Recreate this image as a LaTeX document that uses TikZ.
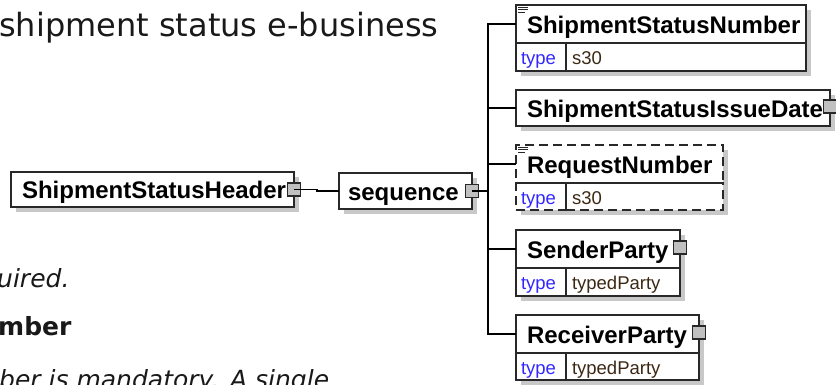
\documentclass[tikz,border=0pt]{standalone}
\usepackage{fontspec}
\setmainfont{Liberation Sans}
\newfontfamily\pagefont{DejaVu Sans}
\usetikzlibrary{positioning,shadows}

\definecolor{boxline}{RGB}{40,40,40}
\definecolor{shadowgray}{RGB}{200,200,200}
\definecolor{expandgray}{RGB}{192,192,192}
\definecolor{typeblue}{RGB}{50,40,255}
\definecolor{valbrown}{RGB}{60,40,20}
\definecolor{pageink}{RGB}{25,25,25}

\begin{document}
\begin{tikzpicture}[x=1pt, y=-1pt,
    elembox/.style={draw=boxline, line width=1.4pt, fill=white, anchor=north west,
        inner xsep=11pt, inner ysep=0pt, outer sep=0pt, align=left,
        text height=21pt, text depth=3pt,
        font=\fontsize{24}{28}\selectfont\bfseries,
        drop shadow={shadow xshift=5pt, shadow yshift=-5pt, fill=shadowgray, opacity=1}},
    keycell/.style={draw=boxline, line width=1.4pt, fill=white, anchor=north west,
        minimum height=28pt, inner xsep=5pt, inner ysep=0pt, outer sep=0pt,
        text height=16pt, text depth=1pt,
        text width=40pt, align=left, text=typeblue, font=\fontsize{18.5}{22}\selectfont,
        drop shadow={shadow xshift=5pt, shadow yshift=-5pt, fill=shadowgray, opacity=1}},
    valcell/.style={keycell, inner xsep=6pt, text=valbrown},
    expander/.style={draw=boxline, line width=1.2pt, fill=expandgray, minimum size=13pt, inner sep=0pt},
    optional/.style={dash pattern=on 9pt off 5pt},
    link/.style={draw=black, line width=1.4pt},
    pagetext/.style={anchor=base west, inner sep=0pt, text=pageink, font=\pagefont\fontsize{25}{30}\selectfont}]

    \useasboundingbox (0,0) rectangle (836,384);
    \clip (0,0) rectangle (836,384);

    % Page text behind the diagram
    \node[pagetext, font=\pagefont\fontsize{32}{38}\selectfont] (title) at (-1,36) {shipment status e-business};
    \node[pagetext, font=\pagefont\fontsize{25}{30}\selectfont\itshape] (reqd) at (-3,287) {uired.};
    \node[pagetext, font=\pagefont\fontsize{25}{30}\selectfont\bfseries] (nmbr) at (-2,335) {mber};
    \node[pagetext, font=\pagefont\fontsize{25}{30}\selectfont\itshape] (mand) at (-1,388) {ber is mandatory. A single};

    % Header and sequence
    \node[elembox, minimum height=35pt, text width=261pt] (hdr) at (11,172) {ShipmentStatusHeader};
    \node[elembox, minimum height=36pt, inner xsep=9pt, text width=115pt] (seq) at (339,173) {sequence};
    \node[expander] (hdrX) at (hdr.east) {};
    \node[expander] (seqX) at (seq.east) {};
    \draw[link] (hdrX.center) -- ++(23,0) |- (seq.west);

    % Children
    \node[elembox, minimum height=38pt, text width=268pt] (ssn) at (516,5) {ShipmentStatusNumber};
    \node[keycell] (ssnK) at (ssn.south west) {type};
    \node[valcell, text width=228pt] (ssnV) at (ssnK.north east) {s30};

    \node[elembox, minimum height=36pt, text width=292pt] (ssid) at (516,90) {ShipmentStatusIssueDate};
    \node[expander] (ssidX) at ([yshift=1.5pt]ssid.east) {};

    \node[elembox, optional, minimum height=38pt, text width=185pt] (req) at (516,145) {RequestNumber};
    \node[keycell, optional, minimum height=27pt] (reqK) at (req.south west) {type};
    \node[valcell, optional, minimum height=27pt, text width=145pt] (reqV) at (reqK.north east) {s30};
    \draw[boxline, line width=1.4pt] (req.south west) -- (req.south east);
    \draw[boxline, line width=1.4pt] (reqK.north east) -- (reqK.south east);

    \node[elembox, minimum height=38pt, text width=142pt] (snd) at (516,230) {SenderParty};
    \node[keycell] (sndK) at (snd.south west) {type};
    \node[valcell, text width=102pt] (sndV) at (sndK.north east) {typedParty};
    \node[expander] (sndX) at ([yshift=1.5pt]snd.east) {};

    \node[elembox, minimum height=38pt, text width=161pt] (rcv) at (516,315) {ReceiverParty};
    \node[keycell, minimum height=27pt] (rcvK) at (rcv.south west) {type};
    \node[valcell, minimum height=27pt, text width=121pt] (rcvV) at (rcvK.north east) {typedParty};
    \node[expander] (rcvX) at ([yshift=1.5pt]rcv.east) {};

    % Simple content marks
    \foreach \e in {ssn,req} {
        \draw[boxline, line width=1pt] ([shift={(2,2)}]\e.north west) -- ++(10,0);
        \draw[boxline, line width=1pt] ([shift={(2,4.5)}]\e.north west) -- ++(10,0);
        \draw[boxline, line width=1pt] ([shift={(2,7)}]\e.north west) -- ++(7,0);
    }

    % Sequence branches
    \coordinate[right=16pt of seqX.center] (branch);
    \draw[link] (seqX.center) -- (branch);
    \foreach \c in {ssn,ssid,req,snd,rcv}
        \draw[link] (branch) |- (\c.west);
\end{tikzpicture}
\end{document}
